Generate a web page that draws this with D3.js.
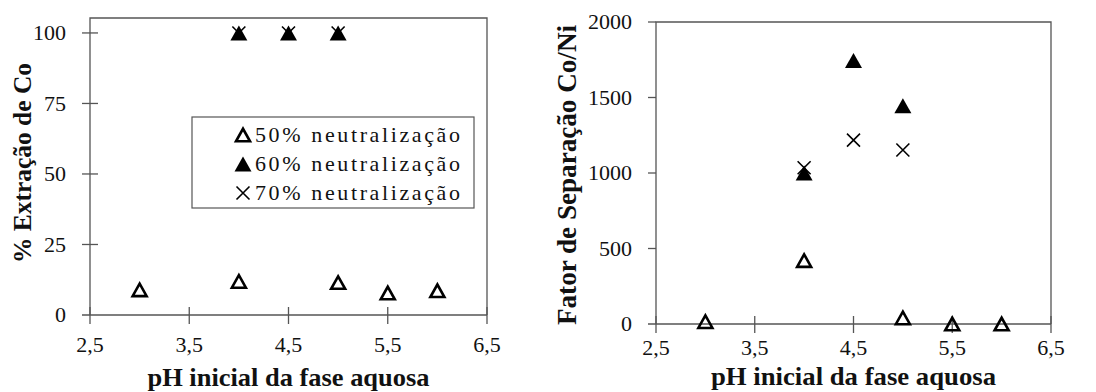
<!DOCTYPE html>
<html>
<head>
<meta charset="utf-8">
<script src="https://cdn.jsdelivr.net/npm/d3@7"></script>
<style>
  html, body { margin: 0; padding: 0; background: #fff; }
</style>
</head>
<body>
<svg id="chart" width="1096" height="392"></svg>
<script>
// pH values and series
const phAll = [3, 4, 5, 5.5, 6];
const phHigh = [4, 4.5, 5];
const xTicks = [2.5, 3.5, 4.5, 5.5, 6.5];

// % extracao de Co
const extracao50 = [8.9, 11.9, 11.5, 7.8, 8.6];
const extracao60 = [100, 100, 100];
const extracao70 = [100, 100, 100];
const extracaoTicks = [0, 25, 50, 75, 100];

// fator de separacao Co/Ni
const fator50 = [15, 420, 40, 0, 0];
const fator60 = [1000, 1745, 1445];
const fator70 = [1035, 1218, 1152];
const fatorTicks = [0, 500, 1000, 1500, 2000];

const legendLabels = ['50% neutralização', '60% neutralização', '70% neutralização'];

const svg = d3.select('#chart');
const serif = 'Liberation Serif';
const lineColor = '#555';
const textColor = '#111';
const fmt = d => String(d).replace('.', ',');
// regular serif only renders as serif up to ~22px here
const regSize = 22;

// marker paths, centred on their bounding box
function triPath(w, h){
  return `M0,${-h/2}L${w/2},${h/2}L${-w/2},${h/2}Z`;
}
function crossPath(r){
  return `M${-r},${-r}L${r},${r}M${-r},${r}L${r},${-r}`;
}

function drawMarker(g, kind, x, y){
  if (kind === 'open'){
    g.append('path').attr('d', triPath(14, 12.5))
      .attr('transform', `translate(${x},${y})`)
      .attr('fill', 'none').attr('stroke', '#000')
      .attr('stroke-width', 2.6).attr('stroke-linejoin', 'miter');
  } else if (kind === 'filled'){
    g.append('path').attr('d', triPath(17, 15))
      .attr('transform', `translate(${x},${y})`)
      .attr('fill', '#000');
  } else {
    g.append('path').attr('d', crossPath(6.5))
      .attr('transform', `translate(${x},${y})`)
      .attr('fill', 'none').attr('stroke', '#000').attr('stroke-width', 1.6);
  }
}

function panel(cfg){
  const g = svg.append('g');
  const x = d3.scaleLinear().domain([2.5, 6.5]).range([cfg.left, cfg.right]);
  const y = d3.scaleLinear().domain([0, cfg.yMax]).range([cfg.bottom, cfg.top]);

  // box: left, top, right borders
  g.append('path')
    .attr('d', `M${cfg.left},${cfg.bottom}V${cfg.top}H${cfg.right}V${cfg.bottom}`)
    .attr('fill', 'none').attr('stroke', lineColor).attr('stroke-width', 1.3);

  // y ticks
  cfg.yTicks.forEach(t => {
    if (t === 0) return;
    g.append('line')
      .attr('x1', cfg.left - 8).attr('x2', cfg.left + cfg.yTickIn)
      .attr('y1', y(t)).attr('y2', y(t))
      .attr('stroke', lineColor).attr('stroke-width', 1.3);
  });
  // x axis line at y=0
  g.append('line')
    .attr('x1', cfg.left - 8).attr('x2', cfg.right)
    .attr('y1', y(0)).attr('y2', y(0))
    .attr('stroke', lineColor).attr('stroke-width', 1.5);
  // x ticks
  xTicks.forEach(t => {
    g.append('line')
      .attr('x1', x(t)).attr('x2', x(t))
      .attr('y1', y(0) - 8).attr('y2', y(0) + 9)
      .attr('stroke', lineColor).attr('stroke-width', 1.3);
  });

  // tick labels
  g.selectAll('.ylab').data(cfg.yTicks).enter().append('text')
    .attr('x', cfg.yLabX).attr('y', d => y(d)).attr('dy', '0.34em')
    .attr('text-anchor', 'end').attr('font-family', serif).attr('font-size', regSize)
    .attr('fill', textColor)
    .text(d => d);
  g.selectAll('.xlab').data(xTicks).enter().append('text')
    .attr('x', d => x(d)).attr('y', cfg.xLabY)
    .attr('text-anchor', 'middle').attr('font-family', serif).attr('font-size', regSize)
    .attr('fill', textColor)
    .text(fmt);

  // axis titles
  g.append('text')
    .attr('x', (cfg.left + cfg.right) / 2).attr('y', cfg.xTitleY)
    .attr('text-anchor', 'middle').attr('font-family', serif)
    .attr('font-size', 26).attr('font-weight', 'bold')
    .attr('textLength', cfg.xTitleLen).attr('lengthAdjust', 'spacingAndGlyphs')
    .attr('fill', textColor).text('pH inicial da fase aquosa');
  g.append('text')
    .attr('transform', `translate(${cfg.yTitleX},${cfg.yTitleY}) rotate(-90)`)
    .attr('dy', '0.33em')
    .attr('text-anchor', 'middle').attr('font-family', serif)
    .attr('font-size', cfg.yTitleSize).attr('font-weight', 'bold')
    .attr('textLength', cfg.yTitleLen).attr('lengthAdjust', 'spacingAndGlyphs')
    .attr('fill', textColor).text(cfg.yTitle);

  // series
  const marks = g.append('g');
  phAll.forEach((p, i) => drawMarker(marks, 'open', x(p), y(cfg.s50[i])));
  phHigh.forEach((p, i) => drawMarker(marks, 'filled', x(p), y(cfg.s60[i])));
  phHigh.forEach((p, i) => drawMarker(marks, 'cross', x(p), y(cfg.s70[i])));
  return g;
}

panel({
  left: 90, right: 487, top: 18, bottom: 315, yMax: 105.3, yTickIn: 8,
  yTicks: extracaoTicks, s50: extracao50, s60: extracao60, s70: extracao70,
  yLabX: 66, xLabY: 352, xTitleY: 386, xTitleLen: 282,
  yTitleX: 23, yTitleY: 163, yTitleSize: 25, yTitleLen: 200, yTitle: '% Extração de Co'
});

panel({
  left: 656, right: 1051, top: 22, bottom: 324, yMax: 2000, yTickIn: 0,
  yTicks: fatorTicks, s50: fator50, s60: fator60, s70: fator70,
  yLabX: 632, xLabY: 355, xTitleY: 385, xTitleLen: 285,
  yTitleX: 567, yTitleY: 175, yTitleSize: 28, yTitleLen: 300, yTitle: 'Fator de Separação Co/Ni'
});

// legend (left panel)
const lg = svg.append('g');
lg.append('rect').attr('x', 192).attr('y', 117).attr('width', 282).attr('height', 91)
  .attr('fill', '#fff').attr('stroke', lineColor).attr('stroke-width', 1.2);
const kinds = ['open', 'filled', 'cross'];
legendLabels.forEach((lab, i) => {
  const cy = 135 + i * 29;
  drawMarker(lg, kinds[i], 243, cy);
  lg.append('text').attr('x', 255).attr('y', cy).attr('dy', '0.34em')
    .attr('font-family', serif).attr('font-size', regSize).attr('fill', textColor)
    .attr('textLength', 205).attr('lengthAdjust', 'spacing')
    .text(lab);
});
</script>
</body>
</html>
